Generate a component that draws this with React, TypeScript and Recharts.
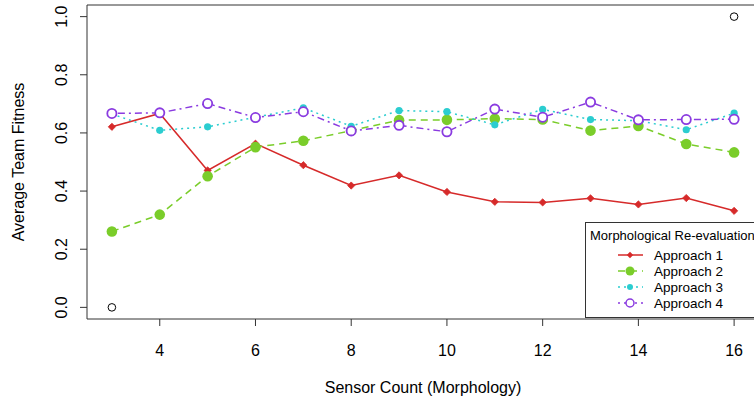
import React from "react";
import {
  ComposedChart,
  Line,
  Scatter,
  XAxis,
  YAxis,
  ReferenceArea,
  Legend,
  Label,
} from "recharts";

const sensorCounts = [3, 4, 5, 6, 7, 8, 9, 10, 11, 12, 13, 14, 15, 16];
const approach1 = [0.621, 0.667, 0.471, 0.563, 0.489, 0.419, 0.454, 0.397, 0.363, 0.361, 0.375, 0.354, 0.376, 0.332];
const approach2 = [0.261, 0.319, 0.451, 0.551, 0.573, 0.608, 0.644, 0.645, 0.649, 0.646, 0.608, 0.624, 0.562, 0.533];
const approach3 = [0.665, 0.609, 0.621, 0.654, 0.686, 0.623, 0.677, 0.673, 0.628, 0.681, 0.646, 0.642, 0.611, 0.668];
const approach4 = [0.667, 0.669, 0.701, 0.653, 0.673, 0.607, 0.626, 0.604, 0.682, 0.654, 0.706, 0.645, 0.646, 0.647];
const cornerX = [3, 16];
const cornerY = [0, 1];
const xTicks = [4, 6, 8, 10, 12, 14, 16];
const yTicks = [0, 0.2, 0.4, 0.6, 0.8, 1.0];
const seriesNames = ["Approach 1", "Approach 2", "Approach 3", "Approach 4"];
const legendTitle = "Morphological Re-evaluation";

const data = sensorCounts.map((x, i) => ({
  x,
  a1: approach1[i],
  a2: approach2[i],
  a3: approach3[i],
  a4: approach4[i],
}));
const corners = cornerX.map((x, i) => ({ x, y: cornerY[i] }));

const RED = "#d62a2a";
const GREEN = "#7acd2a";
const CYAN = "#2bcdd0";
const PURPLE = "#8a3be0";
const FONT = "'Liberation Sans', Arial, Helvetica, sans-serif";

const Diamond = (props: any) => {
  const { cx, cy } = props;
  if (cx == null || cy == null) return null;
  const s = 3.6;
  return (
    <polygon
      points={`${cx},${cy - s} ${cx + s},${cy} ${cx},${cy + s} ${cx - s},${cy}`}
      fill={RED}
      stroke={RED}
      strokeWidth={0.8}
    />
  );
};
const GreenDot = (props: any) => {
  const { cx, cy } = props;
  if (cx == null || cy == null) return null;
  return <circle cx={cx} cy={cy} r={5.3} fill={GREEN} stroke="none" />;
};
const CyanDot = (props: any) => {
  const { cx, cy } = props;
  if (cx == null || cy == null) return null;
  return <circle cx={cx} cy={cy} r={3.6} fill={CYAN} stroke="none" />;
};
const PurpleDot = (props: any) => {
  const { cx, cy } = props;
  if (cx == null || cy == null) return null;
  return <circle cx={cx} cy={cy} r={4.6} fill="#fff" stroke={PURPLE} strokeWidth={1.8} />;
};
const CornerDot = (props: any) => {
  const { cx, cy } = props;
  if (cx == null || cy == null) return null;
  return <circle cx={cx} cy={cy} r={3.8} fill="none" stroke="#000" strokeWidth={1} />;
};

const XTick = (props: any) => {
  const { x, y, payload } = props;
  return (
    <text x={x} y={y + 28} textAnchor="middle" fontSize={16} fontFamily={FONT} fill="#000">
      {payload.value}
    </text>
  );
};
const YTick = (props: any) => {
  const { x, y, payload } = props;
  const bx = x - 11;
  return (
    <text
      x={bx}
      y={y}
      textAnchor="middle"
      fontSize={16}
      fontFamily={FONT}
      fill="#000"
      transform={`rotate(-90 ${bx} ${y})`}
    >
      {Number(payload.value).toFixed(1)}
    </text>
  );
};

const legendItems = [
  { name: seriesNames[0], color: RED, dash: "", marker: "diamond" },
  { name: seriesNames[1], color: GREEN, dash: "7 5", marker: "green" },
  { name: seriesNames[2], color: CYAN, dash: "2 4", marker: "cyan" },
  { name: seriesNames[3], color: PURPLE, dash: "2 4 7 4", marker: "purple" },
];

const LegendBox = () => (
  <svg width={175} height={97} style={{ display: "block" }}>
    <rect x={0.5} y={0.5} width={185} height={95} fill="#fff" stroke="#333" strokeWidth={1} />
    <text x={5} y={18} fontSize={13} fontFamily={FONT} fill="#000">
      {legendTitle}
    </text>
    {legendItems.map((it, i) => {
      const cy = 33 + i * 16;
      let marker: any = null;
      if (it.marker === "diamond") {
        const s = 3.2;
        marker = (
          <polygon points={`45,${cy - s} ${45 + s},${cy} 45,${cy + s} ${45 - s},${cy}`} fill={RED} />
        );
      } else if (it.marker === "green") {
        marker = <circle cx={45} cy={cy} r={4.5} fill={GREEN} />;
      } else if (it.marker === "cyan") {
        marker = <circle cx={45} cy={cy} r={3} fill={CYAN} />;
      } else {
        marker = <circle cx={45} cy={cy} r={4} fill="#fff" stroke={PURPLE} strokeWidth={1.5} />;
      }
      return (
        <g key={it.name}>
          <line
            x1={33}
            x2={58}
            y1={cy}
            y2={cy}
            stroke={it.color}
            strokeWidth={1.5}
            strokeDasharray={it.dash || undefined}
          />
          {marker}
          <text x={69} y={cy + 5} fontSize={13.5} fontFamily={FONT} fill="#000">
            {it.name}
          </text>
        </g>
      );
    })}
  </svg>
);

export default function App() {
  return (
    <div
      style={{
        position: "fixed",
        left: 0,
        top: 0,
        width: 754,
        height: 402,
        overflow: "hidden",
        background: "#fff",
      }}
    >
      <ComposedChart
        width={762}
        height={402}
        data={data}
        margin={{ top: 5, right: 3, left: 0, bottom: 0 }}
      >
        <XAxis
          type="number"
          dataKey="x"
          domain={[2.48, 16.52]}
          ticks={xTicks}
          allowDataOverflow
          axisLine={false}
          tickLine={{ stroke: "#333" }}
          tickSize={7}
          height={83}
          tick={<XTick />}
        >
          <Label
            value="Sensor Count (Morphology)"
            position="insideBottom"
            offset={9}
            style={{ fontSize: 16, fontFamily: FONT, fill: "#000" }}
          />
        </XAxis>
        <YAxis
          type="number"
          domain={[-0.04, 1.04]}
          ticks={yTicks}
          allowDataOverflow
          axisLine={false}
          tickLine={{ stroke: "#333" }}
          tickSize={7}
          width={87}
          tick={<YTick />}
        >
          <Label
            content={(p: any) => {
              const vb = p.viewBox || {};
              const cx = 24;
              const cy = (vb.y ?? 5) + (vb.height ?? 314) / 2;
              return (
                <text
                  x={cx}
                  y={cy}
                  textAnchor="middle"
                  fontSize={16}
                  fontFamily={FONT}
                  fill="#000"
                  transform={`rotate(-90 ${cx} ${cy})`}
                >
                  Average Team Fitness
                </text>
              );
            }}
          />
        </YAxis>
        <ReferenceArea
          x1={2.48}
          x2={16.52}
          y1={-0.04}
          y2={1.04}
          fill="none"
          fillOpacity={0}
          stroke="#333"
          strokeWidth={1}
          ifOverflow="visible"
        />
        <Line
          dataKey="a1"
          name={seriesNames[0]}
          stroke={RED}
          strokeWidth={1.5}
          dot={<Diamond />}
          activeDot={false}
          isAnimationActive={false}
          legendType="none"
        />
        <Line
          dataKey="a2"
          name={seriesNames[1]}
          stroke={GREEN}
          strokeWidth={1.5}
          strokeDasharray="7 5"
          dot={<GreenDot />}
          activeDot={false}
          isAnimationActive={false}
        />
        <Line
          dataKey="a3"
          name={seriesNames[2]}
          stroke={CYAN}
          strokeWidth={1.5}
          strokeDasharray="2 4"
          dot={<CyanDot />}
          activeDot={false}
          isAnimationActive={false}
        />
        <Line
          dataKey="a4"
          name={seriesNames[3]}
          stroke={PURPLE}
          strokeWidth={1.5}
          strokeDasharray="2 4 7 4"
          dot={<PurpleDot />}
          activeDot={false}
          isAnimationActive={false}
        />
        <Scatter
          data={corners}
          dataKey="y"
          shape={<CornerDot />}
          isAnimationActive={false}
          legendType="none"
        />
        <Legend
          layout="vertical"
          align="center"
          verticalAlign="middle"
          content={() => <LegendBox />}
          wrapperStyle={{ position: "absolute", left: 585, top: 222, width: 175, height: 97 }}
        />
      </ComposedChart>
    </div>
  );
}
